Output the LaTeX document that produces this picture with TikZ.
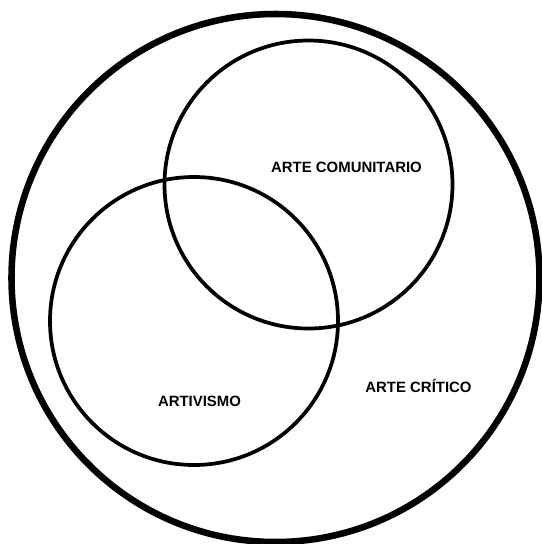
\documentclass[tikz,border=0pt]{standalone}
\usepackage{fontspec}
\setmainfont{Liberation Sans}
\usepackage{tikz}
\usetikzlibrary{positioning}

\begin{document}
\begin{tikzpicture}[x=0.75pt, y=-0.75pt,
  outerset/.style={line width=4.9pt},
  innerset/.style={line width=2.8pt},
  setname/.style={font=\bfseries\fontsize{11.2}{13}\selectfont, inner sep=0pt}]
  \useasboundingbox (0,0) rectangle (542,544);

  % Outer set
  \draw[outerset] (275.5,278) circle (264);
  \node[setname] (critico) at (418.5,386) {ARTE CRÍTICO};

  % Inner sets
  \draw[innerset] (308.5,184.5) circle (144);
  \node[setname] (comunitario) at (346.5,167) {ARTE COMUNITARIO};

  \draw[innerset] (194,321) circle (144);
  \node[setname] (artivismo) at (199.5,401) {ARTIVISMO};
\end{tikzpicture}
\end{document}
